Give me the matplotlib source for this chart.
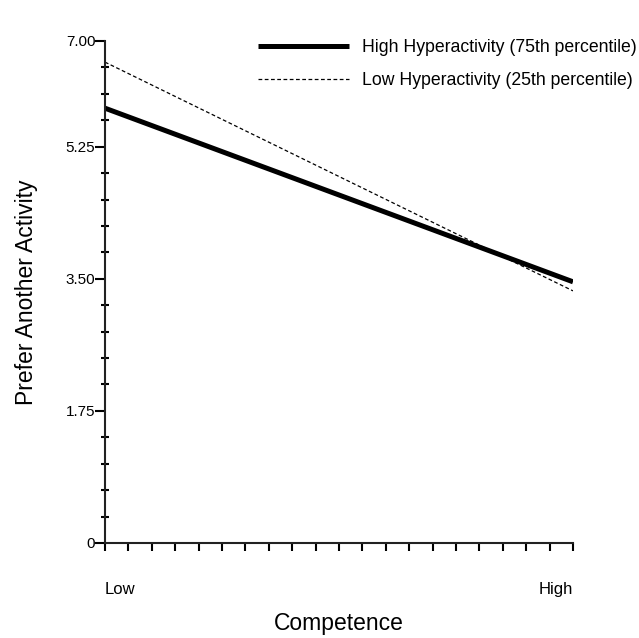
import numpy as np
import matplotlib.pyplot as plt
from matplotlib.ticker import FixedLocator

plt.rcParams['font.family'] = ['Liberation Sans', 'DejaVu Sans']

# data (y in axis units, 1.75 per labelled step)
competence = [0, 1]
competence_labels = ["Low", "High"]
high_hyper = [5.76, 3.46]
low_hyper = [6.37, 3.34]
ytick_vals = [0, 1.75, 3.50, 5.25, 6.65]
ytick_labels = ["0", "1.75", "3.50", "5.25", "7.00"]

fig = plt.figure(figsize=(6.39, 6.38), dpi=100)
ax = fig.add_axes([105/639, 1 - 543/638, (573-105)/639, (543-41)/638])

ax.plot(competence, high_hyper, color="black", lw=3.6, solid_capstyle="butt",
        label="High Hyperactivity (75th percentile)")
ax.plot(competence, low_hyper, color="black", lw=0.9, dashes=(3, 2),
        label="Low Hyperactivity (25th percentile)")

ax.set_xlim(0, 1)
ax.set_ylim(0, 6.65)

for s in ["top", "right"]:
    ax.spines[s].set_visible(False)
for s in ["left", "bottom"]:
    ax.spines[s].set_linewidth(1.5)
    ax.spines[s].set_color("#222222")

ax.set_yticks(ytick_vals)
ax.set_yticklabels(ytick_labels, fontsize=11)
ax.yaxis.set_minor_locator(FixedLocator(np.arange(0, 6.66, 0.35)))
ax.tick_params(axis="y", which="major", direction="out", length=7, width=1.5, pad=0)
ax.tick_params(axis="y", which="minor", direction="inout", length=6, width=1.5)

ax.set_xticks(competence)
ax.set_xticklabels(competence_labels, fontsize=12)
ax.get_xticklabels()[0].set_ha("left")
ax.get_xticklabels()[1].set_ha("right")
ax.xaxis.set_minor_locator(FixedLocator(np.arange(0, 1.001, 0.05)))
ax.tick_params(axis="x", which="both", direction="out", length=6, width=1.5, pad=22)

ax.set_xlabel("Competence", fontsize=16.5)
ax.xaxis.set_label_coords(0.5, -0.137)
ax.set_ylabel("Prefer Another Activity", fontsize=16.5, labelpad=20)

ax.legend(loc="upper right", bbox_to_anchor=(1.137, 1.004), frameon=False,
          borderaxespad=0, borderpad=0,
          fontsize=12.7, handlelength=5.2, handletextpad=0.74, labelspacing=0.9)

fig.savefig("out.png", dpi=100)
